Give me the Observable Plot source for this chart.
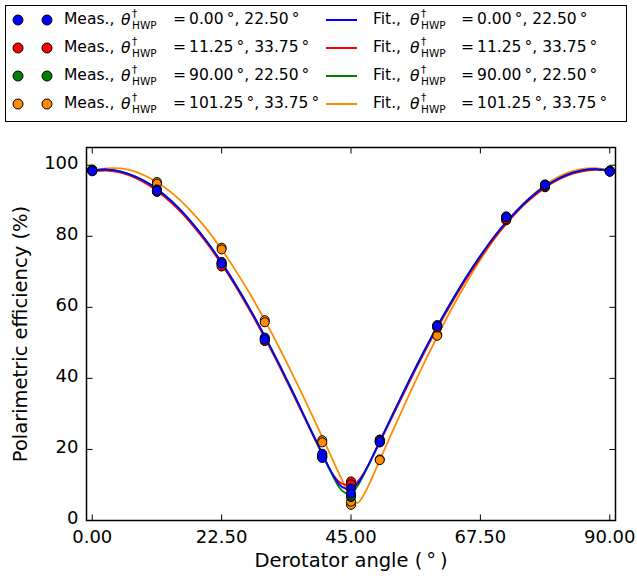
<!DOCTYPE html>
<html><head><meta charset="utf-8">
<script src="https://cdn.jsdelivr.net/npm/d3@7"></script>
<script src="https://cdn.jsdelivr.net/npm/@observablehq/plot@0.6"></script>
<style>
body{margin:0;background:#fff;font-family:"DejaVu Sans",sans-serif;color:#000;}
#legend{position:relative;width:637px;height:130px;}
#box{position:absolute;left:5px;top:5px;width:622px;height:117px;border:1.5px solid #000;box-sizing:border-box;}
.t{position:absolute;white-space:nowrap;font-size:15.5px;line-height:1;transform:translateY(-50%);}
.th{font-style:italic;}
.sm{font-size:10.5px;}
.dot{position:absolute;width:9px;height:9px;border-radius:50%;border:1px solid #000;transform:translate(-50%,-50%);}
.ln{position:absolute;height:2px;width:31px;transform:translateY(-50%);}
#chart svg{display:block;}
</style></head><body>
<div id="legend"><div id="box"></div></div>
<div id="chart"></div>
<script>
// ---------- data ----------
const xTicks = [0, 22.5, 45, 67.5, 90];
const yTicks = [0, 20, 40, 60, 80, 100];
const seriesKeys = ["blue", "red", "green", "orange"];
const seriesColors = ["#0000ff", "#ff0000", "#008000", "#ff8c00"];
const hwpA = ["0.00", "11.25", "90.00", "101.25"];
const hwpB = ["22.50", "33.75", "22.50", "33.75"];

const measAngles = [0, 11.25, 22.5, 30, 40, 45, 50, 60, 72, 78.75, 90];
const blueMeasA   = [98.5, 93.2, 72.8, 51.5, 18.8, 9.0, 22.5, 55.0, 85.6, 94.6, 98.3];
const blueMeasB   = [98.4, 92.8, 72.3, 50.9, 17.6, 7.6, 22.0, 54.7, 85.4, 94.4, 98.2];
const redMeasA    = [98.5, 92.6, 71.8, 50.8, 18.2, 11.0, 22.8, 54.5, 85.0, 94.2, 98.5];
const redMeasB    = [98.3, 92.5, 71.5, 50.5, 17.8, 10.2, 22.6, 54.3, 84.8, 94.0, 98.4];
const greenMeasA  = [98.6, 93.0, 72.5, 51.2, 18.5, 6.6, 22.2, 54.8, 85.5, 94.5, 98.3];
const greenMeasB  = [98.4, 92.9, 72.2, 51.0, 18.0, 7.0, 22.0, 54.6, 85.3, 94.4, 98.2];
const orangeMeasA = [98.8, 95.3, 76.8, 56.4, 22.6, 4.4, 17.2, 52.3, 84.8, 94.0, 98.5];
const orangeMeasB = [98.7, 94.8, 76.3, 55.8, 22.0, 5.3, 17.0, 52.0, 84.5, 93.8, 98.4];

const fitAngles = [0, 2.5, 5, 7.5, 10, 12.5, 15, 17.5, 20, 22.5, 25, 27.5, 30, 32.5, 35, 37.5, 40, 41.5, 43, 44, 44.5, 45.5, 46, 46.5, 48, 50, 52.5, 55, 57.5, 60, 62.5, 65, 67.5, 70, 72.5, 75, 77.5, 80, 82.5, 85, 87.5, 90];
const blueFit   = [98.5, 98.8, 98.2, 96.8, 94.7, 91.7, 88.0, 83.5, 78.4, 72.6, 66.2, 59.3, 51.9, 44.0, 35.8, 27.3, 18.8, 13.9, 10.1, 9.0, 8.9, 9.4, 10.2, 11.2, 15.6, 22.3, 30.7, 39.0, 47.0, 54.6, 61.7, 68.4, 74.5, 80.1, 84.9, 89.1, 92.6, 95.3, 97.3, 98.5, 98.9, 98.5];
const redFit    = [98.3, 98.5, 97.9, 96.4, 94.2, 91.2, 87.5, 83.0, 77.9, 72.1, 65.7, 58.8, 51.4, 43.5, 35.3, 26.9, 18.6, 13.9, 10.8, 10.1, 10.0, 10.3, 10.8, 11.6, 15.5, 22.0, 30.2, 38.5, 46.5, 54.1, 61.2, 67.9, 74.0, 79.6, 84.4, 88.7, 92.2, 95.0, 97.0, 98.2, 98.7, 98.4];
const greenFit  = [98.5, 98.8, 98.2, 96.8, 94.7, 91.7, 88.0, 83.5, 78.4, 72.6, 66.2, 59.3, 51.9, 44.0, 35.8, 27.3, 18.7, 13.6, 9.2, 7.8, 7.6, 8.4, 9.4, 10.7, 15.4, 22.2, 30.7, 39.0, 47.0, 54.6, 61.7, 68.4, 74.5, 80.1, 84.9, 89.1, 92.6, 95.3, 97.3, 98.5, 98.9, 98.5];
const orangeFit = [98.4, 99.1, 99.1, 98.2, 96.4, 93.9, 90.6, 86.5, 81.8, 76.3, 70.2, 63.6, 56.4, 48.7, 40.6, 32.2, 23.5, 18.2, 12.9, 9.5, 7.8, 5.4, 5.0, 5.4, 9.7, 17.0, 26.1, 35.0, 43.6, 51.8, 59.6, 66.8, 73.4, 79.4, 84.7, 89.2, 92.9, 95.8, 97.8, 98.9, 99.2, 98.6];

const xLabel = "Derotator angle (\u2009°\u2009)";
const yLabel = "Polarimetric efficiency (%)";

// ---------- legend ----------
const legend = document.getElementById("legend");
function add(cls, left, top, html, style) {
  const e = document.createElement("div");
  e.className = cls;
  e.style.left = left + "px";
  e.style.top = top + "px";
  if (style) Object.assign(e.style, style);
  if (html != null) e.innerHTML = html;
  legend.appendChild(e);
  return e;
}
seriesKeys.forEach((k, i) => {
  const y = 20 + 28 * i;
  const c = seriesColors[i];
  add("dot", 18, y, null, {background: c});
  add("dot", 47, y, null, {background: c});
  add("t", 64, y, "Meas.,");
  add("t th", 121, y + 1, "θ");
  add("t sm", 132, y - 7, "†");
  add("t sm", 132, y + 5, "HWP");
  add("t", 173, y, "=\u2009" + hwpA[i] + "\u2009°, " + hwpB[i] + "\u2009°");
  add("ln", 326, y, null, {background: c});
  add("t", 373, y, "Fit.,");
  add("t th", 410, y + 1, "θ");
  add("t sm", 421, y - 7, "†");
  add("t sm", 421, y + 5, "HWP");
  add("t", 461, y, "=\u2009" + hwpA[i] + "\u2009°, " + hwpB[i] + "\u2009°");
});

// ---------- chart ----------
const xDomain = [-1, 91], yDomain = [0, 105];
const fits = {blue: blueFit, red: redFit, green: greenFit, orange: orangeFit};
const measA = {blue: blueMeasA, red: redMeasA, green: greenMeasA, orange: orangeMeasA};
const measB = {blue: blueMeasB, red: redMeasB, green: greenMeasB, orange: orangeMeasB};
const colorOf = Object.fromEntries(seriesKeys.map((k, i) => [k, seriesColors[i]]));
const lineOrder = ["orange", "red", "green", "blue"];
const dotOrder = ["orange", "green", "red", "blue"];

const tick = (dx, dy) => ({draw(ctx) { ctx.moveTo(0, 0); ctx.lineTo(dx, dy); }});

const marks = [];
lineOrder.forEach(k => marks.push(Plot.line(fitAngles, {
  x: d => d, y: (d, i) => fits[k][i], stroke: colorOf[k], strokeWidth: 1.8, curve: "natural"
})));
dotOrder.forEach(k => {
  [measA[k], measB[k]].forEach(arr => marks.push(Plot.dot(measAngles, {
    x: d => d, y: (d, i) => arr[i], r: 4.5, fill: colorOf[k], stroke: "#000", strokeWidth: 1
  })));
});
marks.push(
  Plot.frame({stroke: "#000", strokeWidth: 1.5}),
  Plot.dot(xTicks, {x: d => d, y: () => yDomain[0], symbol: tick(0, -6), fill: "none", stroke: "#000", strokeWidth: 1}),
  Plot.dot(xTicks, {x: d => d, y: () => yDomain[1], symbol: tick(0, 6), fill: "none", stroke: "#000", strokeWidth: 1}),
  Plot.dot(yTicks, {y: d => d, x: () => xDomain[0], symbol: tick(6, 0), fill: "none", stroke: "#000", strokeWidth: 1}),
  Plot.dot(yTicks, {y: d => d, x: () => xDomain[1], symbol: tick(-6, 0), fill: "none", stroke: "#000", strokeWidth: 1}),
  Plot.axisX(xTicks, {anchor: "bottom", tickSize: 0, tickPadding: 10, tickFormat: d => d.toFixed(2), label: null, fontSize: 18}),
  Plot.axisY(yTicks, {anchor: "left", tickSize: 0, tickPadding: 8, dy: -2, label: null, fontSize: 18}),
  Plot.text([xLabel], {text: d => d, frameAnchor: "bottom", textAnchor: "middle", dy: 46, fontSize: 19.5}),
  Plot.text([yLabel], {text: d => d, frameAnchor: "left", textAnchor: "middle", rotate: -90, dx: -66, fontSize: 19.5})
);

const chart = Plot.plot({
  width: 637, height: 448,
  marginLeft: 86, marginRight: 22, marginTop: 17, marginBottom: 58,
  x: {domain: xDomain},
  y: {domain: yDomain},
  style: {fontFamily: "DejaVu Sans", fontSize: "18px", background: "#fff", color: "#000", overflow: "visible"},
  marks
});
document.getElementById("chart").appendChild(chart);
</script>
</body></html>
